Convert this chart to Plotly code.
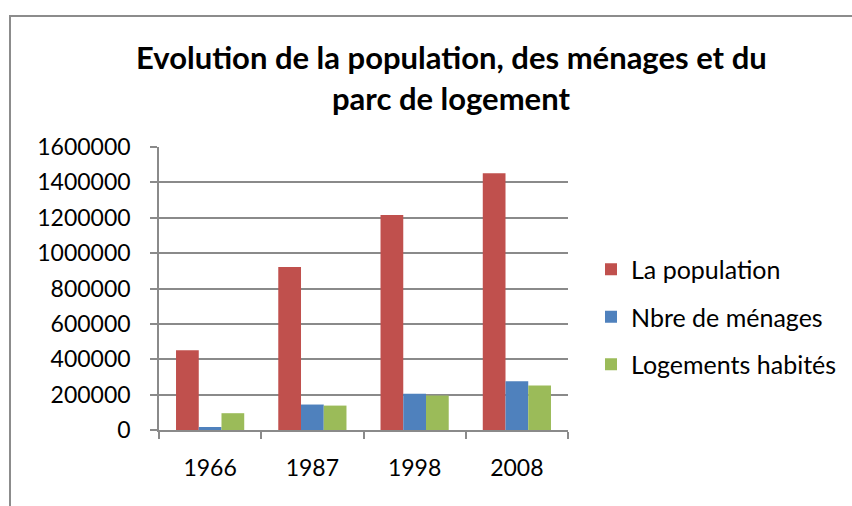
import plotly.graph_objects as go

# Census years and series values
years = ["1966", "1987", "1998", "2008"]
population = [451000, 922000, 1215000, 1451000]
menages = [17000, 144000, 205000, 275000]
logements = [95000, 138000, 195000, 252000]

series_names = ["La population", "Nbre de ménages", "Logements habités"]
series_colors = ["#C0504D", "#4F81BD", "#9BBB59"]
y_ticks = list(range(0, 1600001, 200000))
title_lines = ["Evolution de la population, des ménages et du", "parc de logement"]

FONT = "Lato, Carlito, Calibri, sans-serif"
GRID = "#8a8a8a"

W, H = 852, 506
L, R, T, B = 159, 568, 147, 430  # plot area in pixels


def px_x(p):
    return (p - L) / (R - L)


def px_y(p):
    return (B - p) / (B - T)


fig = go.Figure()
for name, vals, col in zip(series_names, [population, menages, logements], series_colors):
    fig.add_trace(go.Bar(
        x=years, y=vals, name=name, marker_color=col,
        marker_line_width=0, legendgroup=name,
    ))

fig.update_layout(
    width=W, height=H,
    margin=dict(l=L, r=W - R, t=T, b=H - B, pad=0, autoexpand=False),
    paper_bgcolor="white", plot_bgcolor="white",
    font=dict(family=FONT, size=23, color="black"),
    barmode="group", bargap=0.333, bargroupgap=0,
    showlegend=True,
    legend=dict(
        x=px_x(591), xanchor="left", y=px_y(317), yanchor="middle",
        traceorder="grouped", tracegroupgap=12,
        font=dict(size=25), itemwidth=30, bgcolor="rgba(0,0,0,0)",
    ),
    xaxis=dict(
        type="category", showline=True, linecolor=GRID, linewidth=1.5,
        ticks="outside", tickson="boundaries", ticklen=7, tickcolor=GRID,
        tickwidth=1.5, showgrid=False, ticklabelstandoff=17,
    ),
    yaxis=dict(
        range=[0, 1600000], tickvals=y_ticks, tickformat="d",
        showline=True, linecolor=GRID, linewidth=1.5,
        ticks="outside", ticklen=7, tickcolor=GRID, tickwidth=1.5,
        showgrid=True, gridcolor=GRID, gridwidth=1.5,
        zeroline=False, ticklabelstandoff=15,
    ),
)

# Title, two centered lines
for line, cy in zip(title_lines, [57, 98]):
    fig.add_annotation(
        text="<b>%s</b>" % line, xref="paper", yref="paper",
        x=px_x(451), y=px_y(cy), xanchor="center", yanchor="middle",
        showarrow=False, font=dict(family=FONT, size=31, color="black"),
    )

# Chart frame (extends past the right and bottom edges)
fig.add_shape(
    type="rect", xref="paper", yref="paper",
    x0=px_x(10), x1=px_x(900), y0=px_y(560), y1=px_y(16),
    line=dict(color="#8c8c8c", width=2), fillcolor="rgba(0,0,0,0)", layer="below",
)

fig.write_html("out.html")
